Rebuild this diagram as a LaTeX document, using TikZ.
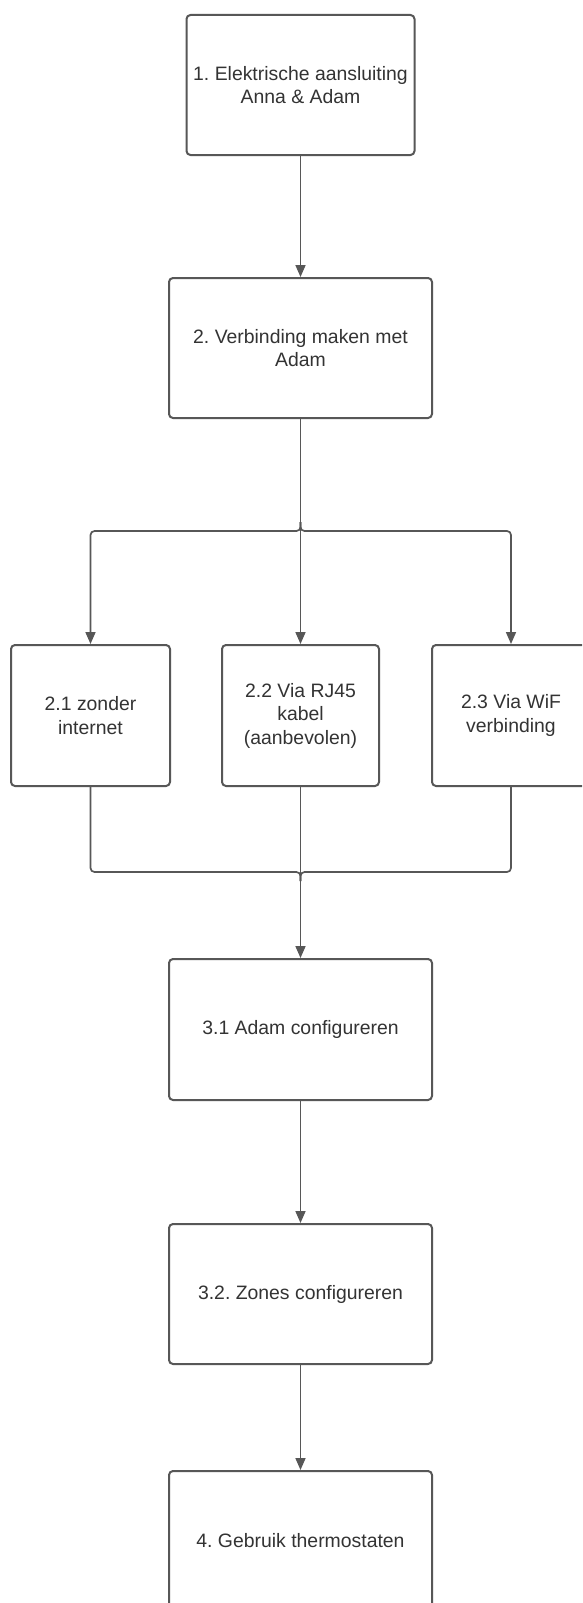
\documentclass[tikz,border=0pt]{standalone}
\usepackage{fontspec}
\setmainfont{Liberation Sans}
\usetikzlibrary{arrows.meta}
\definecolor{linegray}{HTML}{575757}
\definecolor{textgray}{HTML}{333333}
\frenchspacing
\tikzset{
  box/.style={draw=linegray, line width=2pt, rounded corners=4pt, fill=white,
    minimum height=140pt, align=center, text=textgray,
    font=\fontsize{19.4}{23.5}\selectfont, inner sep=0pt},
  conn/.style={draw=linegray, line width=1.7pt, rounded corners=4pt},
  arr/.style={conn, -{Triangle[length=12pt,width=10pt]}}
}
\begin{document}
\begin{tikzpicture}[x=1pt,y=-1pt]
\clip (0,0) rectangle (582,1603);
\fill[white] (0,0) rectangle (582,1603);
\node[box, minimum width=228pt] (b1) at (300.5,85) {1. Elektrische aansluiting\\Anna \& Adam};
\node[box, minimum width=263pt] (b2) at (300.5,348) {2. Verbinding maken met\\Adam};
\node[box, minimum width=159pt, minimum height=141pt] (b21) at (90.5,715.5) {2.1 zonder\\internet};
\node[box, minimum width=157pt, minimum height=141pt] (b22) at (300.5,715.5) {2.2 Via RJ45\\kabel\\(aanbevolen)};
\node[box, minimum width=158pt, minimum height=141pt] (b23) at (511,715.5) {2.3 Via WiF\\verbinding};
\node[box, minimum width=263pt, minimum height=141pt] (b31) at (300.5,1029.5) {3.1 Adam configureren};
\node[box, minimum width=263pt] (b32) at (300.5,1294) {3.2. Zones configureren};
\node[box, minimum width=263pt] (b4) at (300.5,1541) {4. Gebruik thermostaten};
\coordinate (splitup) at (300.5,522);
\coordinate (split) at (300.5,531);
\coordinate (merge) at (300.5,872);
\coordinate (mergedown) at (300.5,881);
\draw[arr] (b1) -- (b2);
\draw[arr] (b2.south) -- (b22.north);
\draw[arr] (splitup) -- (split) -| (b21.north);
\draw[arr] (splitup) -- (split) -| (b23.north);
\draw[conn] (b21.south) |- (merge) -- (mergedown);
\draw[conn] (b23.south) |- (merge) -- (mergedown);
\draw[arr] (b22.south) -- (b31.north);
\draw[arr] (b31) -- (b32);
\draw[arr] (b32) -- (b4);
\end{tikzpicture}
\end{document}
